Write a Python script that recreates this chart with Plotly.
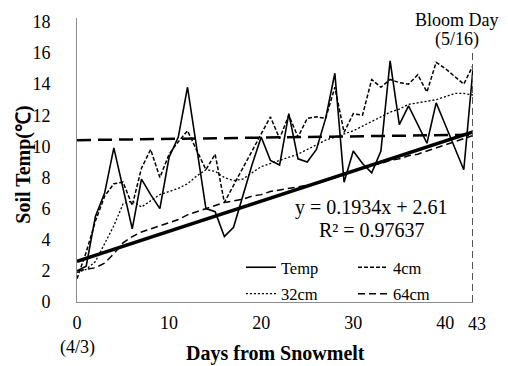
import plotly.graph_objects as go

days = list(range(0, 44))
temp = [2.0, 2.3, 5.5, 7.0, 9.9, 7.3, 4.7, 7.9, 6.9, 6.0, 9.3, 10.6, 13.8, 9.9, 6.0, 5.8,
        4.2, 4.8, 6.8, 8.8, 10.6, 9.1, 8.8, 12.1, 9.2, 9.0, 9.8, 11.8, 14.7, 7.7, 9.7, 8.9,
        8.3, 9.7, 15.5, 11.4, 12.6, 11.4, 10.2, 12.8, 11.4, 10.0, 8.5, 15.0]
cm4 = [1.5, 3.2, 5.2, 6.8, 7.6, 7.7, 6.2, 8.6, 9.8, 8.0, 9.5, 10.3, 11.0, 9.7, 8.5, 9.5,
       6.4, 7.5, 8.6, 9.7, 10.8, 11.9, 10.5, 12.0, 10.6, 11.8, 11.9, 11.8, 13.8, 10.9, 12.1, 12.0,
       14.3, 13.8, 14.3, 14.1, 14.0, 14.6, 13.5, 15.4, 15.0, 14.5, 14.0, 15.2]
cm32 = [1.9, 2.1, 2.6, 3.8, 4.9, 6.3, 6.5, 6.1, 6.5, 6.9, 7.1, 7.3, 7.6, 8.1, 8.5, 8.4,
        8.0, 7.8, 7.9, 8.3, 8.7, 8.9, 9.1, 9.3, 9.5, 9.8, 10.1, 10.4, 10.6, 10.8, 11.0, 11.3,
        11.6, 11.9, 12.2, 12.4, 12.7, 12.8, 12.9, 13.0, 13.2, 13.4, 13.4, 13.3]
cm64 = [2.0, 2.1, 2.2, 2.5, 3.1, 3.8, 4.2, 4.5, 4.7, 4.9, 5.1, 5.3, 5.6, 5.8, 6.0, 6.2,
        6.4, 6.5, 6.6, 6.8, 6.9, 7.1, 7.2, 7.3, 7.4, 7.5, 7.6, 7.8, 8.0, 8.2, 8.4, 8.6,
        8.8, 8.9, 9.1, 9.2, 9.4, 9.5, 9.7, 9.9, 10.1, 10.3, 10.5, 10.7]

trend_slope = 0.1934
trend_intercept = 2.61
trend_x = [0, 43]
ref_x = [0, 43]
ref_y = [10.4, 10.75]
bloom_day = 43

x_ticks = [0, 10, 20, 30, 40]
y_ticks = [0, 2, 4, 6, 8, 10, 12, 14, 16, 18]

FONT = "Liberation Serif, Times New Roman, serif"

fig = go.Figure()

fig.add_trace(go.Scatter(x=ref_x, y=ref_y, mode="lines", showlegend=False, hoverinfo="skip",
                         line=dict(color="black", width=2.5, dash="14px,7px")))
fig.add_trace(go.Scatter(x=trend_x, y=[trend_intercept + trend_slope * v for v in trend_x],
                         mode="lines", showlegend=False, hoverinfo="skip",
                         line=dict(color="black", width=3.5)))
fig.add_trace(go.Scatter(x=days, y=cm64, mode="lines", name="64cm", legend="legend2",
                         legendgroup="d", legendrank=4,
                         line=dict(color="black", width=1.5, dash="7px,4px")))
fig.add_trace(go.Scatter(x=days, y=cm32, mode="lines", name="32cm", legend="legend",
                         legendgroup="c", legendrank=3,
                         line=dict(color="black", width=1.3, dash="2px,2px")))
fig.add_trace(go.Scatter(x=days, y=cm4, mode="lines", name="4cm", legend="legend2",
                         legendgroup="b", legendrank=2,
                         line=dict(color="black", width=1.5, dash="4px,2px")))
fig.add_trace(go.Scatter(x=days, y=temp, mode="lines", name="Temp", legend="legend",
                         legendgroup="a", legendrank=1,
                         line=dict(color="black", width=1.6)))

fig.add_shape(type="line", xref="x", yref="paper", x0=bloom_day, x1=bloom_day, y0=0, y1=0.886,
              line=dict(color="#555555", width=2, dash="7px,4px"))

legend_common = dict(bgcolor="rgba(0,0,0,0)", borderwidth=0, traceorder="grouped",
                     tracegroupgap=2, itemwidth=30, xanchor="left", yanchor="top",
                     font=dict(family=FONT, size=16.5, color="black"))

fig.update_layout(
    width=508, height=366,
    margin=dict(l=77, r=35, t=13, b=64),
    paper_bgcolor="white", plot_bgcolor="white",
    font=dict(family=FONT, color="black"),
    xaxis=dict(range=[0, 43], tickvals=x_ticks, showline=True, linecolor="#8c8c8c", linewidth=1,
               showgrid=False, zeroline=False, ticks="", ticklabelstandoff=4,
               tickfont=dict(family=FONT, size=18, color="black")),
    yaxis=dict(range=[0, 18.25], tickvals=y_ticks, showline=True, linecolor="#8c8c8c", linewidth=1,
               showgrid=False, zeroline=False, ticks="", ticklabelstandoff=22,
               tickfont=dict(family=FONT, size=18, color="black")),
    legend=dict(x=0.414, y=0.183, **legend_common),
    legend2=dict(x=0.697, y=0.183, **legend_common),
    showlegend=True,
)

ann = [
    dict(text="<b>Days from Snowmelt</b>", x=0.5, y=-0.183, font=dict(size=20)),
    dict(text="<b>Soil Temp(℃)</b>", x=-0.136, y=0.484, textangle=-90, font=dict(size=20)),
    dict(text="(4/3)", x=0.0, y=-0.159, font=dict(size=18)),
    dict(text="43", x=1.0, xshift=4, y=-0.076, font=dict(size=18)),
    dict(text="Bloom Day", x=0.96, y=0.993, font=dict(size=18)),
    dict(text="(5/16)", x=0.96, y=0.924, font=dict(size=18)),
    dict(text="y = 0.1934x + 2.61", x=0.744, y=0.333, font=dict(size=20)),
    dict(text="R² = 0.97637", x=0.744, y=0.255, font=dict(size=20)),
]
for a in ann:
    a.setdefault("xref", "paper")
    a.setdefault("yref", "paper")
    a["showarrow"] = False
    a["xanchor"] = "center"
    a["yanchor"] = "middle"
    a["font"] = dict(family=FONT, color="black", **a["font"])
    fig.add_annotation(**a)

fig.write_html("out.html", config={"displayModeBar": False},
               post_script="document.body.style.margin='0';")
